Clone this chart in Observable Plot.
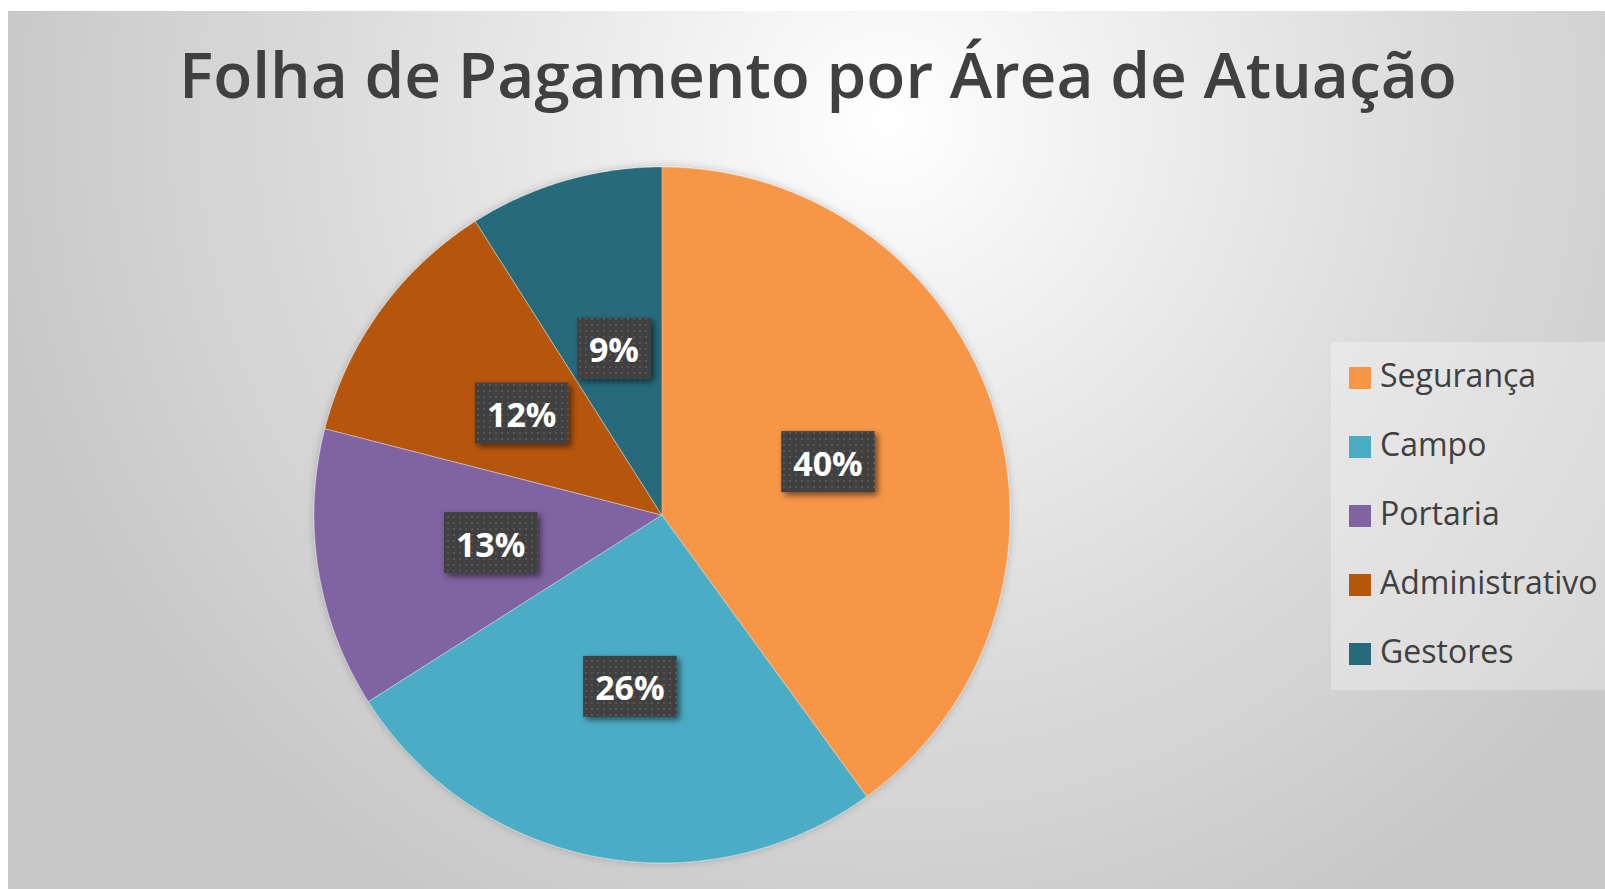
<!DOCTYPE html>
<html><head><meta charset="utf-8">
<script src="https://cdn.jsdelivr.net/npm/d3@7"></script>
<script src="https://cdn.jsdelivr.net/npm/@observablehq/plot@0.6"></script>
<style>
html,body{margin:0;padding:0;background:#fff;width:1605px;height:889px;overflow:hidden;}
#frame{position:absolute;left:8px;top:11px;width:1597px;height:878px;
  background:radial-gradient(ellipse 900px 900px at 880px 110px,#ffffff 0%,#f0f0f0 25%,#dcdcdc 60%,#c8c8c8 100%);}
#chart{position:absolute;left:8px;top:11px;}
#title{position:absolute;left:0;width:1636px;top:42px;text-align:center;font-family:"Open Sans";font-size:64px;font-weight:600;color:#404040;line-height:1;white-space:nowrap;}
#legend{position:absolute;left:1331px;top:342px;width:274px;height:348px;background:rgba(255,255,255,0.3);box-sizing:border-box;padding-top:1.5px;}
#legend .row{height:69px;display:flex;align-items:center;font-family:"Open Sans";font-size:32px;color:#404040;white-space:nowrap;}
#legend .row span{position:relative;top:-4px;}
#legend .sw{width:22px;height:22px;margin-left:18px;margin-right:9px;flex:none;}
</style></head><body>
<div id="frame"></div>
<div id="chart"></div>
<div id="title">Folha de Pagamento por Área de Atuação</div>
<div id="legend"></div>
<script>
const categories = ["Segurança", "Campo", "Portaria", "Administrativo", "Gestores"];
const shares = [40, 26, 13, 12, 9];
const labels = ["40%", "26%", "13%", "12%", "9%"];
const colors = ["#F79646", "#4BACC6", "#8064A2", "#B65708", "#276A7C"];

const W = 1597, H = 878, cx = 654, cy = 504, r = 348;

const arcs = d3.pie().sort(null).value(d => d)(shares);
const slices = [];
arcs.forEach((a, i) => {
  const n = Math.max(4, Math.ceil((a.endAngle - a.startAngle) / 0.005));
  for (let k = 0; k <= n; k++) {
    const t = a.startAngle + (a.endAngle - a.startAngle) * k / n;
    slices.push({cat: categories[i], x0: 0, y0: 0, x: Math.sin(t), y: Math.cos(t)});
  }
});
const labelData = arcs.map((a, i) => {
  const m = (a.startAngle + a.endAngle) / 2;
  return {cat: categories[i], label: labels[i], x: 0.5 * Math.sin(m), y: 0.5 * Math.cos(m)};
});

const svg = Plot.plot({
  width: W, height: H,
  margin: 0,
  style: {background: "transparent", overflow: "visible"},
  x: {domain: [-1, 1], range: [cx - r, cx + r], axis: null},
  y: {domain: [-1, 1], range: [cy + r, cy - r], axis: null},
  color: {domain: categories, range: colors},
  marks: [
    Plot.area(slices, {x1: "x0", y1: "y0", x2: "x", y2: "y", z: "cat", fill: "cat",
      stroke: "white", strokeOpacity: 0.35, strokeWidth: 1, curve: "linear"}),
    Plot.text(labelData, {x: "x", y: "y", dy: 3, text: "label", fill: "white",
      fontSize: 34, fontWeight: "bold", fontFamily: "Open Sans"})
  ]
});
document.getElementById("chart").appendChild(svg);

const NS = "http://www.w3.org/2000/svg";
const defs = document.createElementNS(NS, "defs");
defs.innerHTML = `
<pattern id="dots" width="6" height="6" patternUnits="userSpaceOnUse">
  <rect width="6" height="6" fill="#404040"/>
  <rect x="1" y="1" width="2" height="2" fill="#575757"/>
</pattern>
<filter id="boxShadow" x="-30%" y="-30%" width="160%" height="160%">
  <feDropShadow dx="3" dy="3" stdDeviation="3" flood-color="#000" flood-opacity="0.55"/>
</filter>
<filter id="pieShadow" x="-10%" y="-10%" width="120%" height="120%">
  <feDropShadow dx="0" dy="0" stdDeviation="4" flood-color="#000" flood-opacity="0.22"/>
</filter>`;
svg.insertBefore(defs, svg.firstChild);

const areaG = svg.querySelector('g[aria-label="area"]');
if (areaG) areaG.setAttribute("filter", "url(#pieShadow)");

const textG = svg.querySelector('g[aria-label="text"]');
const svgRect = svg.getBoundingClientRect();
const boxG = document.createElementNS(NS, "g");
boxG.setAttribute("filter", "url(#boxShadow)");
textG.querySelectorAll("text").forEach(t => {
  const b = t.getBoundingClientRect();
  const bx = b.left - svgRect.left, by = b.top - svgRect.top;
  const w = b.width + 24, h = 61;
  const ccx = bx + b.width / 2, ccy = by + b.height / 2 - 1;
  const rect = document.createElementNS(NS, "rect");
  rect.setAttribute("x", ccx - w / 2);
  rect.setAttribute("y", ccy - h / 2);
  rect.setAttribute("width", w);
  rect.setAttribute("height", h);
  rect.setAttribute("fill", "url(#dots)");
  boxG.appendChild(rect);
});
svg.insertBefore(boxG, textG);

const legend = document.getElementById("legend");
categories.forEach((c, i) => {
  const row = document.createElement("div");
  row.className = "row";
  const sw = document.createElement("div");
  sw.className = "sw";
  sw.style.background = colors[i];
  const tx = document.createElement("span");
  tx.textContent = c;
  row.appendChild(sw); row.appendChild(tx);
  legend.appendChild(row);
});
</script>
</body></html>
